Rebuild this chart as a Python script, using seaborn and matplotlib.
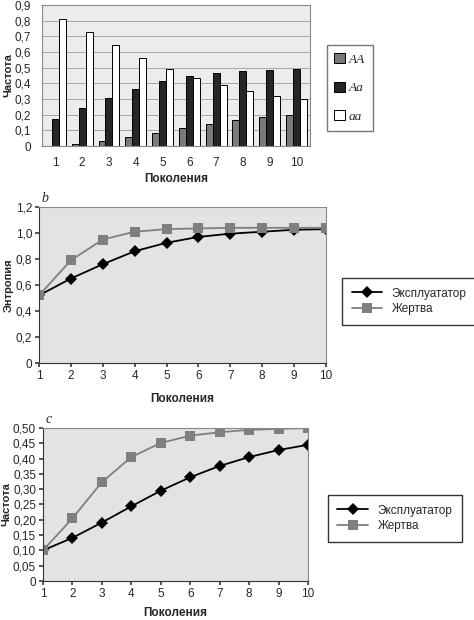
import numpy as np
import pandas as pd
import matplotlib
matplotlib.use('Agg')
import matplotlib.pyplot as plt
import seaborn as sns

# данные
generations = [1, 2, 3, 4, 5, 6, 7, 8, 9, 10]
freq_AA = [0.003, 0.013, 0.03, 0.055, 0.085, 0.115, 0.14, 0.165, 0.185, 0.20]
freq_Aa = [0.175, 0.24, 0.305, 0.365, 0.415, 0.45, 0.465, 0.48, 0.488, 0.492]
freq_aa = [0.81, 0.73, 0.645, 0.565, 0.49, 0.432, 0.39, 0.35, 0.322, 0.302]

entropy_expl = [0.52, 0.65, 0.76, 0.86, 0.925, 0.97, 0.995, 1.01, 1.025, 1.03]
entropy_victim = [0.52, 0.79, 0.95, 1.01, 1.03, 1.035, 1.04, 1.04, 1.04, 1.04]

freq_expl = [0.10, 0.141, 0.191, 0.244, 0.295, 0.339, 0.376, 0.405, 0.428, 0.445]
freq_victim = [0.10, 0.205, 0.323, 0.405, 0.451, 0.475, 0.486, 0.494, 0.497, 0.50]

yticks_a = [0, 0.1, 0.2, 0.3, 0.4, 0.5, 0.6, 0.7, 0.8, 0.9]
yticks_b = [0, 0.2, 0.4, 0.6, 0.8, 1.0, 1.2]
yticks_c = [0, 0.05, 0.1, 0.15, 0.2, 0.25, 0.3, 0.35, 0.4, 0.45, 0.5]

sns.set_theme(style='white')
plt.rcParams['font.family'] = ['Liberation Sans', 'DejaVu Sans']


def comma_label(v, digits):
    if v == 0:
        return '0'
    return f'{v:.{digits}f}'.replace('.', ',')


fig = plt.figure(figsize=(4.74, 6.2), dpi=100)

# ---- a: столбчатая диаграмма генотипов
ax1 = fig.add_axes([0.0886, 0.7645, 0.565, 0.2274])
bars_df = pd.DataFrame({
    'Поколения': generations * 3,
    'Частота': freq_AA + freq_Aa + freq_aa,
    'генотип': ['AA'] * 10 + ['Aa'] * 10 + ['aa'] * 10,
})
sns.barplot(data=bars_df, x='Поколения', y='Частота', hue='генотип',
            palette={'AA': '#7a7a7a', 'Aa': '#262626', 'aa': 'white'},
            edgecolor='black', linewidth=0.7, width=0.78, ax=ax1)
ax1.set_facecolor('#ececec')
ax1.set_ylim(0, 0.9)
ax1.set_yticks(yticks_a)
ax1.set_yticklabels([comma_label(v, 1) for v in yticks_a])
ax1.yaxis.grid(True, color='#9a9a9a', linewidth=0.6)
ax1.set_axisbelow(True)
ax1.set_xlabel('Поколения', fontsize=8.5, fontweight='bold', labelpad=3)
ax1.set_ylabel('Частота', fontsize=8, fontweight='bold', labelpad=1)
ax1.tick_params(labelsize=8.5, pad=2)
for s in ax1.spines.values():
    s.set_color('#888888')
    s.set_linewidth(0.8)
handles, labels = ax1.get_legend_handles_labels()
ax1.legend(handles, labels, loc='center', bbox_to_anchor=(0.738, 0.858),
           bbox_transform=fig.transFigure, prop={'family': 'Liberation Serif', 'style': 'italic', 'size': 9.5},
           frameon=True, fancybox=False, edgecolor='#555555', labelspacing=1.2,
           handlelength=0.8, handleheight=0.8, handletextpad=0.3, borderpad=0.6)


def line_panel(rect, y1, y2, yticks, digits, ylabel, letter, legend_center, xpad):
    ax = fig.add_axes(rect)
    df = pd.DataFrame({
        'Поколения': generations * 2,
        'v': y1 + y2,
        'серия': ['Эксплуататор'] * 10 + ['Жертва'] * 10,
    })
    sns.lineplot(data=df, x='Поколения', y='v', hue='серия', style='серия',
                 palette={'Эксплуататор': 'black', 'Жертва': '#7f7f7f'},
                 markers={'Эксплуататор': 'D', 'Жертва': 's'},
                 dashes=False, markersize=6.5, linewidth=1.3,
                 markeredgewidth=0, ax=ax)
    ax.set_facecolor('#e3e3e3')
    ax.set_xlim(1, 10)
    ax.set_xticks(generations)
    ax.set_ylim(yticks[0], yticks[-1])
    ax.set_yticks(yticks)
    ax.set_yticklabels([comma_label(v, digits) for v in yticks])
    ax.set_xlabel('Поколения', fontsize=8.5, fontweight='bold', labelpad=xpad)
    ax.set_ylabel(ylabel, fontsize=8, fontweight='bold', labelpad=1)
    ax.tick_params(labelsize=8.5, pad=2)
    ax.tick_params(axis='both', which='major', length=3, bottom=True, left=True, color='#444444')
    for name, s in ax.spines.items():
        s.set_linewidth(0.8)
        s.set_color('#333333' if name in ('left', 'bottom') else '#888888')
    ax.text(0.01, 1.03, letter, transform=ax.transAxes, fontsize=10,
            family='Liberation Serif', style='italic')
    ax.legend(loc='center', bbox_to_anchor=legend_center, bbox_transform=fig.transFigure,
              fontsize=8.5, frameon=True, fancybox=False, edgecolor='black',
              handlelength=2.6, borderpad=0.8, labelspacing=0.3)
    return ax


line_panel([0.0823, 0.4145, 0.6055, 0.2516], entropy_expl, entropy_victim,
           yticks_b, 1, 'Энтропия', 'b', (0.863, 0.514), 8)
line_panel([0.0907, 0.0629, 0.559, 0.2468], freq_expl, freq_victim,
           yticks_c, 2, 'Частота', 'c', (0.833, 0.164), 5)

fig.savefig('out.png', dpi=100)
